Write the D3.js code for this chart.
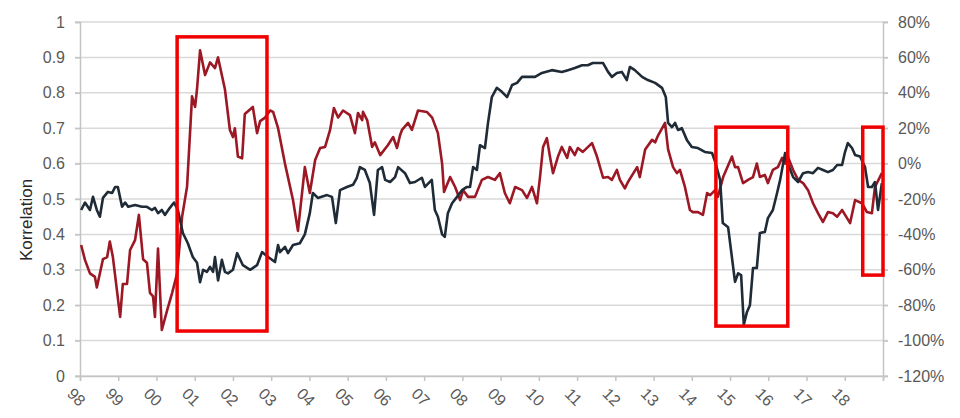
<!DOCTYPE html>
<html>
<head>
<meta charset="utf-8">
<script src="https://cdnjs.cloudflare.com/ajax/libs/d3/7.8.5/d3.min.js"></script>
<style>
  body { margin: 0; background: #fff; }
  .chart text { font-family: "Liberation Sans", Arial, sans-serif; }
</style>
</head>
<body>
<svg class="chart"></svg>
<script>
// red line, left axis (Korrelation)
var redYears = [1998.03,1998.13,1998.26,1998.39,1998.44,1998.60,1998.71,1998.78,1998.86,1999.05,
  1999.12,1999.23,1999.31,1999.44,1999.54,1999.65,1999.75,1999.83,1999.91,1999.96,
  2000.04,2000.14,2000.28,2000.41,2000.54,2000.67,2000.80,2000.93,2001.01,2001.06,
  2001.14,2001.27,2001.40,2001.53,2001.61,2001.79,2001.92,2002.00,2002.05,2002.13,
  2002.24,2002.31,2002.52,2002.63,2002.71,2002.84,2002.97,2003.05,2003.18,2003.36,
  2003.57,2003.70,2003.88,2004.01,2004.15,2004.28,2004.41,2004.54,2004.64,2004.75,
  2004.88,2005.06,2005.19,2005.27,2005.38,2005.40,2005.51,2005.64,2005.71,2005.85,
  2006.05,2006.19,2006.29,2006.37,2006.42,2006.58,2006.68,2006.84,2007.07,2007.21,
  2007.36,2007.47,2007.52,2007.68,2007.81,2007.94,2008.02,2008.15,2008.33,2008.51,
  2008.67,2008.85,2008.98,2009.11,2009.24,2009.38,2009.56,2009.69,2009.82,2009.95,
  2010.03,2010.11,2010.21,2010.29,2010.37,2010.50,2010.60,2010.74,2010.81,2010.94,
  2011.02,2011.15,2011.39,2011.52,2011.68,2011.81,2011.91,2012.04,2012.12,2012.25,
  2012.33,2012.57,2012.64,2012.78,2012.96,2013.04,2013.12,2013.30,2013.38,2013.51,
  2013.61,2013.69,2013.82,2013.95,2014.03,2014.16,2014.29,2014.40,2014.48,2014.61,
  2014.68,2014.82,2015.05,2015.13,2015.21,2015.34,2015.47,2015.60,2015.70,2015.78,
  2015.91,2015.99,2016.12,2016.25,2016.36,2016.44,2016.51,2016.65,2016.78,2016.91,
  2017.04,2017.17,2017.30,2017.43,2017.56,2017.69,2017.80,2017.93,2018.06,2018.14,
  2018.27,2018.45,2018.58,2018.71,2018.79,2018.97];
var redValues = [0.37,0.328,0.29,0.28,0.25,0.33,0.336,0.38,0.336,0.167,
  0.26,0.26,0.356,0.384,0.455,0.33,0.32,0.235,0.225,0.167,
  0.36,0.13,0.186,0.235,0.29,0.45,0.535,0.79,0.76,0.81,
  0.92,0.85,0.886,0.87,0.90,0.81,0.695,0.675,0.70,0.62,
  0.615,0.74,0.76,0.686,0.72,0.73,0.75,0.746,0.70,0.60,
  0.497,0.41,0.59,0.517,0.61,0.644,0.647,0.695,0.757,0.73,
  0.75,0.737,0.686,0.743,0.723,0.746,0.723,0.647,0.66,0.624,
  0.652,0.675,0.644,0.68,0.695,0.715,0.695,0.75,0.746,0.73,
  0.686,0.60,0.52,0.562,0.534,0.497,0.525,0.506,0.506,0.554,
  0.562,0.554,0.573,0.517,0.488,0.534,0.525,0.503,0.534,0.488,
  0.562,0.647,0.672,0.62,0.573,0.62,0.647,0.616,0.647,0.624,
  0.644,0.633,0.658,0.62,0.56,0.562,0.554,0.582,0.554,0.53,
  0.548,0.59,0.562,0.64,0.667,0.66,0.68,0.715,0.64,0.59,
  0.573,0.582,0.534,0.469,0.463,0.463,0.455,0.517,0.511,0.525,
  0.506,0.562,0.62,0.59,0.59,0.545,0.554,0.562,0.60,0.562,
  0.568,0.545,0.582,0.59,0.616,0.60,0.62,0.582,0.554,0.545,
  0.525,0.488,0.46,0.435,0.463,0.46,0.45,0.469,0.446,0.432,
  0.497,0.488,0.463,0.46,0.534,0.573];

// dark line, right axis (%)
var darkYears = [1998.03,1998.13,1998.26,1998.34,1998.44,1998.52,1998.60,1998.73,1998.84,1998.92,
  1998.99,1999.10,1999.18,1999.26,1999.44,1999.62,1999.75,1999.88,1999.96,2000.04,
  2000.14,2000.22,2000.35,2000.46,2000.56,2000.69,2000.82,2000.95,2001.06,2001.14,
  2001.22,2001.32,2001.40,2001.48,2001.53,2001.61,2001.71,2001.79,2001.87,2002.00,
  2002.11,2002.26,2002.45,2002.63,2002.76,2002.92,2003.10,2003.18,2003.23,2003.36,
  2003.44,2003.57,2003.75,2003.88,2004.01,2004.09,2004.22,2004.46,2004.59,2004.69,
  2004.80,2004.98,2005.14,2005.24,2005.32,2005.45,2005.58,2005.69,2005.79,2005.90,
  2005.98,2006.11,2006.24,2006.32,2006.50,2006.63,2006.76,2006.94,2007.02,2007.20,
  2007.28,2007.36,2007.47,2007.54,2007.62,2007.73,2007.86,2007.99,2008.12,2008.20,
  2008.28,2008.38,2008.46,2008.59,2008.67,2008.77,2008.90,2009.04,2009.17,2009.30,
  2009.43,2009.56,2009.72,2009.90,2010.08,2010.34,2010.60,2010.76,2010.94,2011.13,
  2011.28,2011.41,2011.55,2011.68,2011.81,2011.91,2012.04,2012.17,2012.30,2012.38,
  2012.51,2012.70,2012.85,2013.04,2013.22,2013.32,2013.38,2013.48,2013.56,2013.64,
  2013.74,2013.87,2014.00,2014.16,2014.34,2014.53,2014.61,2014.74,2014.81,2014.95,
  2015.13,2015.21,2015.29,2015.36,2015.44,2015.52,2015.60,2015.70,2015.78,2015.91,
  2015.99,2016.12,2016.23,2016.31,2016.44,2016.51,2016.65,2016.78,2016.91,2017.04,
  2017.17,2017.30,2017.43,2017.56,2017.69,2017.80,2017.93,2018.00,2018.08,2018.19,
  2018.27,2018.40,2018.53,2018.61,2018.71,2018.79,2018.87,2018.97];
var darkValues = [-26.2,-22,-26.2,-18.8,-26.2,-30,-19.4,-16,-16.6,-13.2,
  -13.2,-24.4,-22,-24.4,-23.4,-24.4,-24.4,-26.2,-25,-28,
  -26.2,-29,-25,-22,-26.2,-39.2,-45,-52.8,-56,-67,
  -60,-61.2,-58.4,-61.2,-52.8,-66,-54.4,-61.2,-62,-60,
  -50.6,-57.4,-60,-57.4,-50,-52.8,-55.6,-46,-50,-47,
  -50.6,-46,-45,-40,-28,-16.6,-19.4,-17.8,-18.8,-33.6,
  -15,-13.2,-12,-8,-2,-3.6,-11,-29,-3.6,-2,
  -9.2,-10.4,-7.6,-2,-5.4,-11,-10.4,-8,-13.2,-9.2,
  -26.2,-30,-40,-41.4,-28,-22.4,-18.8,-15,-13.2,-13.2,
  -2,-3.6,10.4,8.8,23,37.6,42.8,40.4,37.6,44.4,
  45.6,49,49,49,51.2,52.8,51.8,52.8,54,55.6,
  55.6,56.8,56.8,56.8,51.8,49,51.2,51.8,47.2,54.6,
  52.8,49,47.2,45.6,42.8,37.6,23,20.6,23,19,
  20,13.4,9.4,8.8,6.6,6,1,-9.2,-33.6,-36,
  -66.8,-62,-63,-91,-84,-80,-59,-59,-39.2,-38.6,
  -30.8,-26.2,-16.6,-9.2,6,0,-7.6,-10.4,-5.4,-4.8,
  -5.4,-2.4,-3.6,-4.8,-3.6,-0.8,-0.8,6,11.6,8.8,
  4.8,4,-2,-13.2,-13.2,-10.4,-26.2,-11];

// highlighted periods (years) with bounds on the left axis
var boxStart = [2000.54, 2014.63, 2018.47];
var boxEnd = [2002.89, 2016.51, 2019.0];
var boxTop = [0.958, 0.703, 0.703];
var boxBottom = [0.127, 0.141, 0.285];

var leftTicks = d3.range(0, 11).map(function(i){ return i / 10; });
var rightTicks = d3.range(-120, 81, 20);
var yearTicks = d3.range(1998, 2020);

var Chart = (function(){
  var that = {},
    svg,
    xScale,
    yLeft,
    yRight,
    width = 960,
    height = 418,
    plot = {left: 80, right: 883, top: 22, bottom: 376};

  function initialize(){
    svg = d3.select(".chart")
            .attr("width", width)
            .attr("height", height);

    xScale = d3.scaleLinear().domain([1998, 2019]).range([plot.left, plot.right]);
    yLeft = d3.scaleLinear().domain([0, 1]).range([plot.bottom, plot.top]);
    yRight = d3.scaleLinear().domain([-120, 80]).range([plot.bottom, plot.top]);

    makeGrid();
    makeAxis();
    makeLines();
    makeBoxes();
  }

  function makeGrid(){
    svg.append("g")
       .selectAll("line")
       .data(leftTicks)
       .enter().append("line")
       .attr("x1", plot.left - 5)
       .attr("x2", plot.right + 5)
       .attr("y1", function(d){ return yLeft(d); })
       .attr("y2", function(d){ return yLeft(d); })
       .attr("stroke", "#d9d9d9")
       .attr("stroke-width", 1.5);
  }

  function makeAxis(){
    var left = svg.append("g")
      .attr("transform", "translate(" + plot.left + ",0)")
      .call(d3.axisLeft(yLeft).tickValues(leftTicks).tickSize(5).tickPadding(10)
        .tickFormat(function(d){ return String(+d.toFixed(1)); }));

    var right = svg.append("g")
      .attr("transform", "translate(" + plot.right + ",0)")
      .call(d3.axisRight(yRight).tickValues(rightTicks).tickSize(5).tickPadding(10)
        .tickFormat(function(d){ return d + "%"; }));

    var bottom = svg.append("g")
      .attr("transform", "translate(0," + plot.bottom + ")")
      .call(d3.axisBottom(xScale).tickValues(yearTicks).tickSize(5)
        .tickFormat(function(d){ return d < 2019 ? String(d).slice(2) : ""; }));

    bottom.selectAll("text")
      .attr("x", 0).attr("y", 0).attr("dy", "0.35em")
      .attr("transform", "translate(-4,21) rotate(45)")
      .style("text-anchor", "middle");

    [left, right, bottom].forEach(function(ax){
      ax.select(".domain").attr("stroke", "#c4c4c4").attr("stroke-width", 1.5);
      ax.selectAll(".tick line").attr("stroke", "#c4c4c4").attr("stroke-width", 1.5);
      ax.selectAll("text").attr("fill", "#595959").style("font-size", "16px");
    });

    svg.append("text")
       .attr("transform", "translate(26,220) rotate(-90)")
       .attr("text-anchor", "middle")
       .attr("dy", "0.35em")
       .attr("fill", "#262626")
       .style("font-size", "17px")
       .text("Korrelation");
  }

  function makeLines(){
    var redLine = d3.line()
      .x(function(d){ return xScale(d[0]); })
      .y(function(d){ return yLeft(d[1]); });
    var darkLine = d3.line()
      .x(function(d){ return xScale(d[0]); })
      .y(function(d){ return yRight(d[1]); });

    svg.append("path")
       .datum(d3.zip(redYears, redValues))
       .attr("d", redLine)
       .attr("fill", "none")
       .attr("stroke", "#9b1824")
       .attr("stroke-width", 2.6)
       .attr("stroke-linejoin", "round");

    svg.append("path")
       .datum(d3.zip(darkYears, darkValues))
       .attr("d", darkLine)
       .attr("fill", "none")
       .attr("stroke", "#1f2b36")
       .attr("stroke-width", 2.6)
       .attr("stroke-linejoin", "round");
  }

  function makeBoxes(){
    svg.append("g")
       .selectAll("rect")
       .data(d3.range(boxStart.length))
       .enter().append("rect")
       .attr("x", function(i){ return xScale(boxStart[i]); })
       .attr("y", function(i){ return yLeft(boxTop[i]); })
       .attr("width", function(i){ return xScale(boxEnd[i]) - xScale(boxStart[i]); })
       .attr("height", function(i){ return yLeft(boxBottom[i]) - yLeft(boxTop[i]); })
       .attr("fill", "none")
       .attr("stroke", "#f00000")
       .attr("stroke-width", 3.5);
  }

  that.init = initialize;
  return that;
})();

Chart.init();
</script>
</body>
</html>
